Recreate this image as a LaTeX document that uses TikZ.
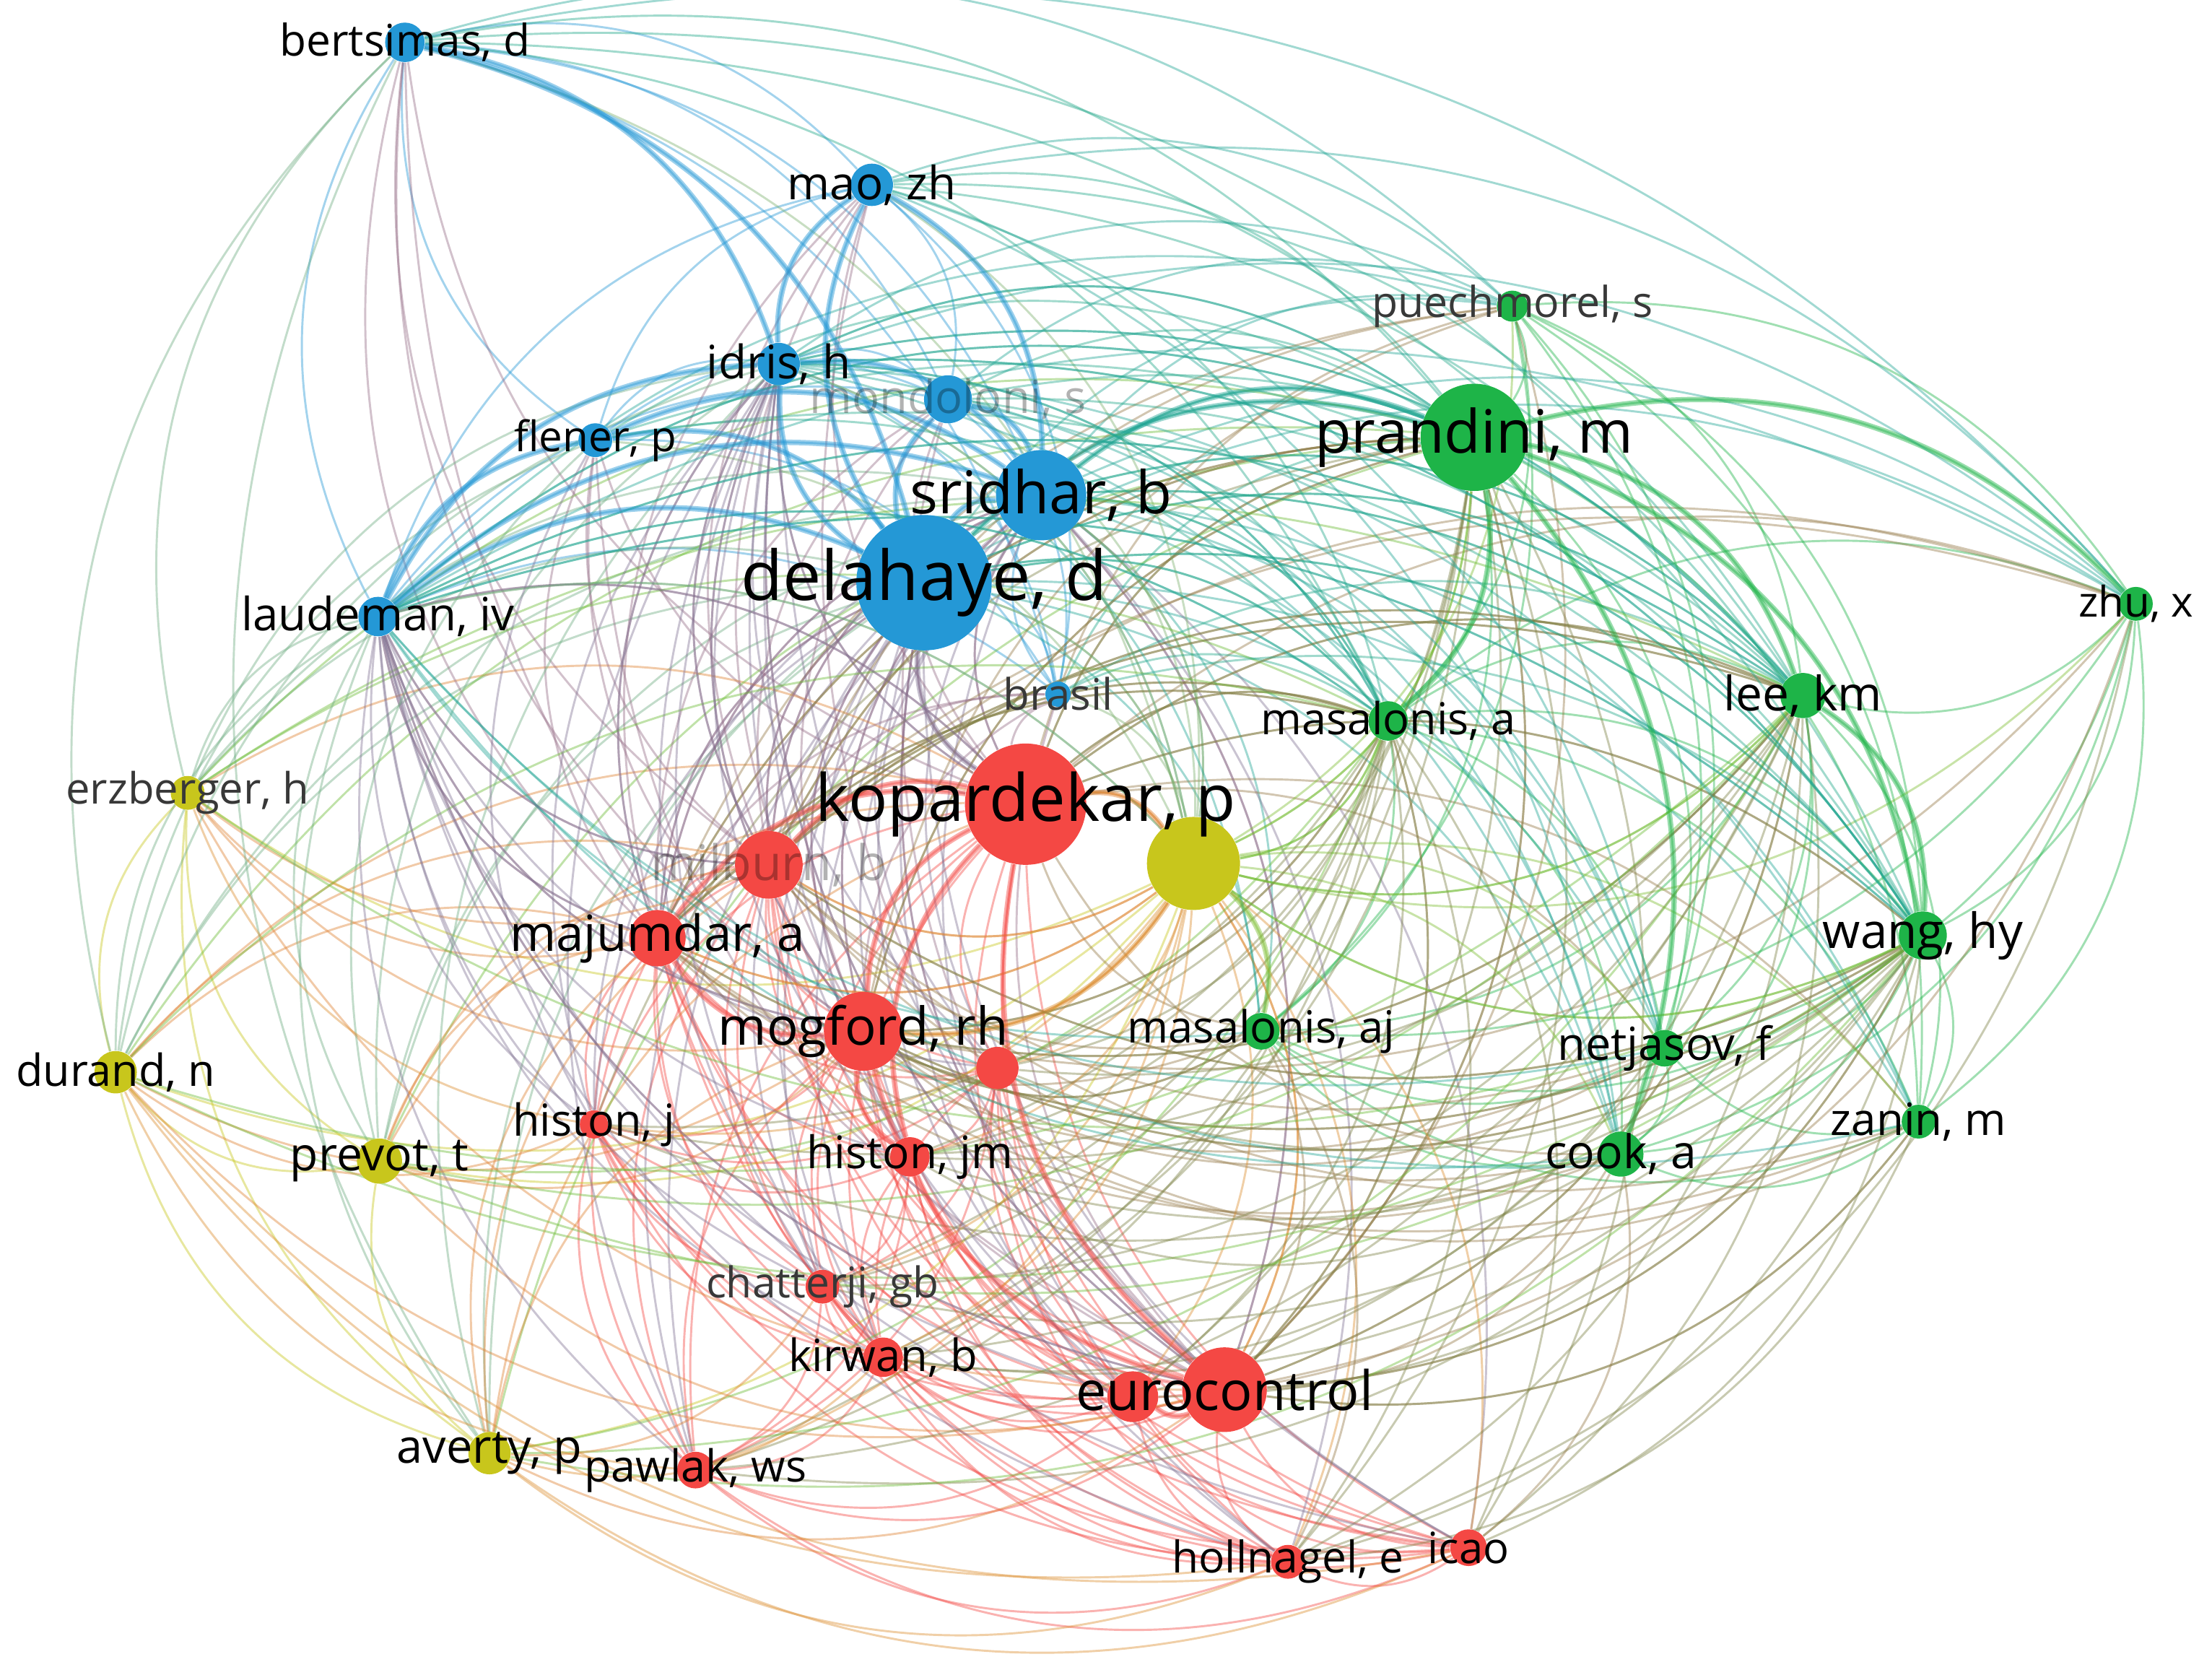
\documentclass[tikz,border=0pt]{standalone}
\usepackage{fontspec}
\setmainfont{Open Sans}
\usetikzlibrary{backgrounds}

\definecolor{vblue}{RGB}{36,152,214}
\definecolor{vgreen}{RGB}{30,180,72}
\definecolor{vred}{RGB}{244,72,68}
\definecolor{vyellow}{RGB}{200,198,28}
\colorlet{ldark}{black!78}

\tikzset{
  vnode/.style={circle, inner sep=0pt, draw=none},
  vlabel/.style={inner sep=0pt},
  vlink/.style={line width=0.85pt, draw opacity=0.42},
  vthick/.style={line width=2.2pt, draw opacity=0.45}
}

% name/x/y/radius/colour/cluster/font size/text colour/text opacity/label
\def\vosnodes{%
  dela/655/413/48/vblue/1/27.7/black/1/{delahaye, d},%
  srid/738/351/32/vblue/1/23.8/black/1/{sridhar, b},%
  bert/287/30/14/vblue/1/17.6/black/1/{bertsimas, d},%
  mao/618/131/15/vblue/1/18.5/black/1/{mao, zh},%
  idris/552/258/15/vblue/1/18.6/black/1/{idris, h},%
  mond/672/283/17/vblue/1/18.4/black/0.3/{mondoloni, s},%
  flen/422/312/12/vblue/1/17/black/1/{flener, p},%
  laud/268/437/14/vblue/1/18.5/black/1/{laudeman, iv},%
  bras/750/492/9/vblue/1/17.5/ldark/1/{brasil},%
  pran/1045/310/38/vgreen/2/24.1/black/1/{prandini, m},%
  puech/1072/217/11/vgreen/2/17.2/ldark/1/{puechmorel, s},%
  zhu/1514/428/12/vgreen/2/17/black/1/{zhu, x},%
  lee/1278/493/16/vgreen/2/19.2/black/1/{lee, km},%
  masa/984/511/14/vgreen/2/17.8/black/1/{masalonis, a},%
  wang/1363/663/17/vgreen/2/19.6/black/1/{wang, hy},%
  masaj/894/731/13/vgreen/2/17.9/black/1/{masalonis, aj},%
  netj/1180/743/13/vgreen/2/18.4/black/1/{netjasov, f},%
  cook/1149/818/16/vgreen/2/18.7/black/1/{cook, a},%
  zan/1360/795/12/vgreen/2/18/black/1/{zanin, m},%
  kopa/727/570/43/vred/3/26.3/black/1/{kopardekar, p},%
  milb/545/613/24/vred/3/19.8/black/0.3/{milburn, b},%
  maju/466/665/20/vred/3/20.1/black/1/{majumdar, a},%
  mogf/612/731/28/vred/3/21.1/black/1/{mogford, rh},%
  rsm/707/757/15/vred/3/10/black/1/{},%
  histj/421/797/10/vred/3/17.8/black/1/{histon, j},%
  histjm/645/820/14/vred/3/18.1/black/1/{histon, jm},%
  chat/583/912/12/vred/3/17.1/ldark/1/{chatterji, gb},%
  kirw/626/962/14/vred/3/17.9/black/1/{kirwan, b},%
  eur2/803/990/18/vred/3/10/black/1/{},%
  euro/868/985/30/vred/3/22/black/1/{eurocontrol},%
  pawl/493/1042/13/vred/3/17.8/black/1/{pawlak, ws},%
  holl/913/1107/12/vred/3/17.6/black/1/{hollnagel, e},%
  icao/1041/1097/13/vred/3/17.4/black/1/{icao},%
  ylw/846/612/33/vyellow/4/10/black/1/{},%
  erzb/133/562/12/vyellow/4/17.4/ldark/1/{erzberger, h},%
  dura/82/760/15/vyellow/4/17.8/black/1/{durand, n},%
  prev/269/823/16/vyellow/4/18.7/black/1/{prevot, t},%
  aver/347/1030/15/vyellow/4/18.9/black/1/{averty, p}%
}
\def\allnames{dela,srid,bert,mao,idris,mond,flen,laud,bras,pran,puech,zhu,lee,masa,wang,masaj,netj,cook,zan,kopa,milb,maju,mogf,rsm,histj,histjm,chat,kirw,eur2,euro,pawl,holl,icao,ylw,erzb,dura,prev,aver}

% curved link, bent away from the middle of the map
\newcommand\voslink[3][vlink]{%
  \pgfmathsetmacro\bnd{30*sign(((\csname vx#2\endcsname-780)/100)*((\csname vy#3\endcsname-600)/100)-((\csname vy#2\endcsname-600)/100)*((\csname vx#3\endcsname-780)/100))}%
  \edef\lcol{\csname vc#2\endcsname!55!\csname vc#3\endcsname}%
  \draw[#1, draw=\lcol] (#2) to[bend left=\bnd] (#3);
}
\newcommand\allpairs[1]{%
  \foreach \a [count=\i] in {#1}{%
    \foreach \b [count=\j] in {#1}{%
      \ifnum\j>\i \voslink{\a}{\b}\fi}}}

\begin{document}
\begin{tikzpicture}[x=0.02cm, y=-0.02cm]
  \useasboundingbox (0,0) rectangle (1568,1187);

  % circles
  \foreach \nm/\x/\y/\r/\c/\k/\fs/\tc/\op/\lab in \vosnodes {
    \expandafter\xdef\csname vx\nm\endcsname{\x}
    \expandafter\xdef\csname vy\nm\endcsname{\y}
    \expandafter\xdef\csname vc\nm\endcsname{\c}
    \expandafter\xdef\csname vk\nm\endcsname{\k}
    \node[vnode, fill=\c, minimum size=\r*0.04cm] (\nm) at (\x,\y) {};
  }
  % labels on top
  \foreach \nm/\x/\y/\r/\c/\k/\fs/\tc/\op/\lab in \vosnodes {
    \node[vlabel, text=\tc, text opacity=\op, font=\fontsize{\fs}{\fs}\selectfont] (\nm-l) at (\x,\y) {\lab};
  }

  \begin{scope}[on background layer]
    \fill[white] (0,0) rectangle (1568,1187);
    % links inside each cluster
    \allpairs{dela,srid,bert,mao,idris,mond,flen,laud,bras}
    \allpairs{pran,puech,zhu,lee,masa,wang,masaj,netj,cook,zan}
    \allpairs{kopa,milb,maju,mogf,rsm,histj,histjm,chat,kirw,eur2,euro,pawl,holl,icao}
    \allpairs{ylw,erzb,dura,prev,aver}
    % hubs to the other clusters
    \foreach \h in {dela,srid,kopa,pran,euro,mogf,ylw,maju,milb,masa,lee,wang,idris,laud}{
      \foreach \b in \allnames {
        \ifnum\csname vk\h\endcsname=\csname vk\b\endcsname\relax\else
          \voslink{\h}{\b}\fi}}
    % other links between clusters
    \foreach \s/\t in {bert/dura, bert/aver, bert/zhu, bert/puech,
        dura/holl, dura/icao, aver/icao, aver/holl, dura/pawl,
        mao/puech, mao/zhu, mao/netj, mao/cook, flen/prev, mond/puech,
        cook/histjm, zan/euro, netj/kirw, icao/cook, holl/masaj, prev/histj,
        erzb/histj, aver/kirw, histj/dura, chat/aver, masaj/mogf, zhu/holl,
        flen/histj, flen/dura, mond/cook, mond/netj, bert/erzb, zan/holl}{
      \voslink{\s}{\t}}
    % strong links
    \foreach \s/\t in {dela/srid, dela/kopa, dela/idris, dela/mond,
        dela/flen, dela/laud, srid/idris, srid/mond, srid/mao, dela/mao,
        flen/laud, idris/laud, kopa/mogf, kopa/maju, kopa/milb, kopa/euro,
        mogf/euro, kopa/ylw, pran/lee, pran/masa, pran/zhu, pran/wang,
        srid/pran, dela/bert, laud/srid, flen/srid, idris/mao, bert/idris,
        mogf/maju, euro/eur2, mogf/histjm, kopa/histjm, ylw/masaj, ylw/mogf,
        pran/cook, lee/wang, dela/pran}{
      \voslink[vthick]{\s}{\t}}
  \end{scope}
\end{tikzpicture}
\end{document}
